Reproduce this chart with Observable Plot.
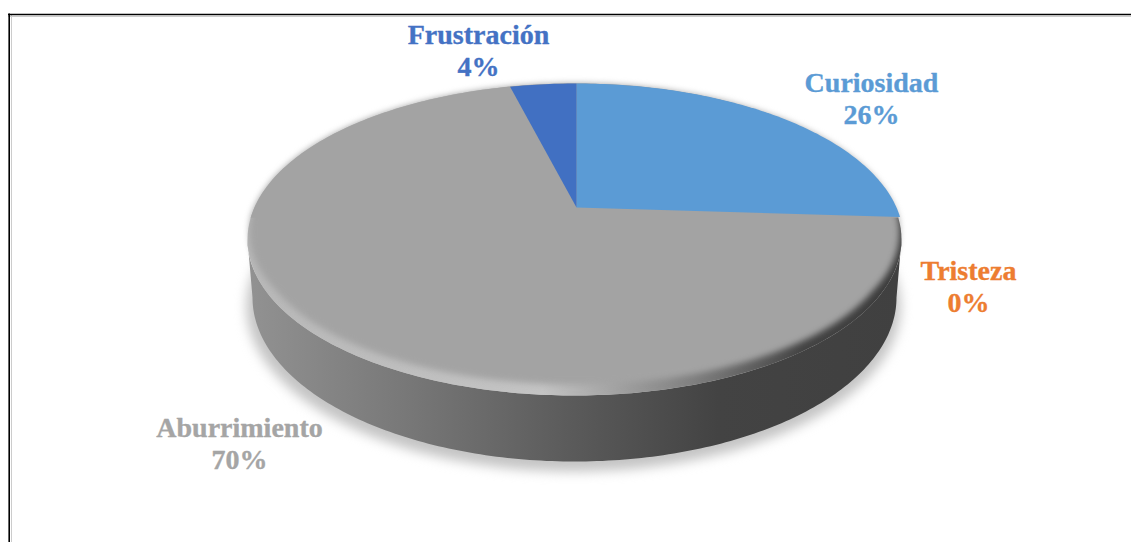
<!DOCTYPE html>
<html>
<head>
<meta charset="utf-8">
<script src="https://cdn.jsdelivr.net/npm/d3@7"></script>
<script src="https://cdn.jsdelivr.net/npm/@observablehq/plot@0.6"></script>
<style>
html,body{margin:0;padding:0;background:#fff;overflow:hidden}
svg{display:block}
</style>
</head>
<body>
<div id="chart"></div>
<script>
// Data
const categories = ["Curiosidad", "Tristeza", "Aburrimiento", "Frustración"];
const shares = [26, 0, 70, 4];
const sliceColors = ["#5B9BD5", "#ED7D31", "#A3A3A3", "#4170C2"];
const labelColors = ["#5B9BD5", "#ED7D31", "#A5A5A5", "#4472C4"];
const labelX = [871, 968, 239, 478];
const labelY = [99, 287, 444, 51];

// Tilted-disc geometry
const W = 1131, H = 542;
const apex = {x: 576, y: 207}, R = 320, squash = 149.4, k = 0.2048;
const project = (deg) => {
  const a = deg * Math.PI / 180, u = Math.sin(a), v = Math.cos(a), d = 1 + k * v;
  return {x: apex.x + R * u / d, y: apex.y - squash * v / d};
};
const total = d3.sum(shares);
let acc = 0;
const sliceShapes = shares.map((s) => {
  const a0 = acc / total * 360; acc += s; const a1 = acc / total * 360;
  const n = Math.max(1, Math.ceil(a1 - a0));
  const pts = [{x: apex.x, y: apex.y}];
  for (let i = 0; i <= n; i++) pts.push(project(a0 + (a1 - a0) * i / n));
  return pts;
});
const ellipse = (cx, cy, rx, ry, from = 0, to = 360) =>
  d3.range(0, 181).map(i => {
    const a = (from + (to - from) * i / 180) * Math.PI / 180;
    return {x: cx + rx * Math.cos(a), y: cy + ry * Math.sin(a)};
  });
const wall = [...ellipse(574, 239, 327, 156, 180, 0), ...ellipse(574, 297, 322, 164, 0, 180)];
const rim = ellipse(574, 239, 327, 156);
// Face inset only along the front edge, where the bevel shows
const inner = d3.range(0, 361).map(d => {
  const a = d * Math.PI / 180;
  const g = Math.max(0, Math.min(1, (Math.sin(a) + 0.15) / 0.5));
  return {x: 574 + (327 - 8 * g) * Math.cos(a), y: 239 + (156 - 11 * g) * Math.sin(a)};
});
const backFace = ellipse(574, 239, 327, 156, 188, 352);
const shadow = ellipse(573, 306, 327, 165);

const defs = () => d3.create("svg:defs").html(`
  <linearGradient id="wallGrad" x1="0" x2="1" y1="0" y2="0">
    <stop offset="0" stop-color="#929292"/>
    <stop offset="0.25" stop-color="#777"/>
    <stop offset="0.5" stop-color="#5a5a5a"/>
    <stop offset="0.72" stop-color="#434343"/>
    <stop offset="1" stop-color="#404040"/>
  </linearGradient>
  <linearGradient id="rimGrad" x1="0" x2="1" y1="0" y2="0">
    <stop offset="0" stop-color="#b8b8b8"/>
    <stop offset="0.45" stop-color="#c4c4c4"/>
    <stop offset="0.68" stop-color="#808080"/>
    <stop offset="0.85" stop-color="#444"/>
    <stop offset="1" stop-color="#3c3c3c"/>
  </linearGradient>`).node();

const shape = (pts, fill, extra = {}) =>
  Plot.line(pts, {x: "x", y: "y", fill, stroke: "none", ...extra});

const labels = categories.map((c, i) => ({
  text: `${c}\n${shares[i]}%`, x: labelX[i], y: labelY[i], color: labelColors[i]
}));

const chart = Plot.plot({
  width: W, height: H, margin: 0,
  x: {axis: null, domain: [0, W], range: [0, W]},
  y: {axis: null, domain: [0, H], range: [0, H]},
  style: {background: "#fff"},
  marks: [
    defs,
    shape(shadow, "#c4c4c4", {imageFilter: "blur(6px)"}),
    shape(wall, "url(#wallGrad)"),
    shape(rim, "url(#rimGrad)"),
    shape(inner, sliceColors[2], {imageFilter: "blur(3px)"}),
    shape(backFace, sliceColors[2]),
    shape(sliceShapes[0], sliceColors[0]),
    shape(sliceShapes[1], sliceColors[1]),
    shape(sliceShapes[3], sliceColors[3]),
    Plot.ruleY([15], {x1: 8, x2: W, stroke: "#ccc", strokeWidth: 1, dy: 1}),
    Plot.ruleX([10], {y1: 14, y2: H, stroke: "#ccc", strokeWidth: 1, dx: 1}),
    Plot.ruleY([14], {x1: 8, x2: W, stroke: "#000", strokeWidth: 1.6}),
    Plot.ruleX([8.7], {y1: 13.5, y2: H, stroke: "#000", strokeWidth: 1.6}),
    Plot.text(labels, {
      x: "x", y: "y", text: "text", fill: "color", stroke: "color", strokeWidth: 0.35,
      fontFamily: "Liberation Serif", fontWeight: "bold", fontSize: 28,
      lineHeight: 1.14, textAnchor: "middle", lineAnchor: "middle", dy: -2
    })
  ],
  color: {type: "identity"}
});
document.getElementById("chart").append(chart);
</script>
</body>
</html>
